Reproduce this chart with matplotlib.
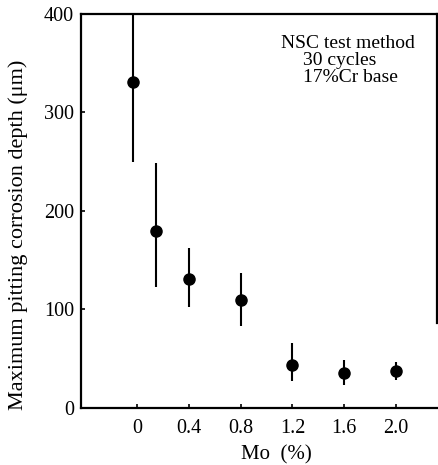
import numpy as np
import matplotlib
matplotlib.use('Agg')
import matplotlib.pyplot as plt

# Data
mo_pct = [-0.03, 0.15, 0.4, 0.8, 1.2, 1.6, 2.0]
depth = [331, 180, 131, 110, 44, 36, 38]
depth_hi = [400, 249, 162, 137, 66, 49, 47]
depth_lo = [250, 123, 103, 83, 27, 23, 28]

xticks = [0, 0.4, 0.8, 1.2, 1.6, 2.0]
xtick_labels = ['0', '0.4', '0.8', '1.2', '1.6', '2.0']
yticks = [0, 100, 200, 300, 400]

plt.rcParams['font.family'] = ['Liberation Serif', 'DejaVu Serif']

fig = plt.figure(figsize=(4.38, 4.65), dpi=100)
ax = fig.add_axes([0.185, 0.1226, 0.813, 0.8473])

depth = np.array(depth)
yerr = [depth - np.array(depth_lo), np.array(depth_hi) - depth]
ax.errorbar(mo_pct, depth, yerr=yerr, fmt='o', color='black',
            markersize=8, elinewidth=1.5, capsize=0)

ax.set_xlim(-0.432, 2.317)
ax.set_ylim(0, 400)
ax.set_xticks(xticks)
ax.set_xticklabels(xtick_labels)
ax.set_yticks(yticks)
ax.tick_params(direction='in', length=3, width=1.2, labelsize=14.5)
ax.tick_params(axis='x', pad=8)
ax.tick_params(axis='y', pad=5)

for s in ax.spines.values():
    s.set_linewidth(1.6)
ax.spines['right'].set_bounds(86, 400)

ax.set_xlabel('Mo  (%)', fontsize=15)
ax.xaxis.set_label_coords(0.548, -0.095)
ax.set_ylabel('Maximum pitting corrosion depth (\u03bcm)', fontsize=16)
ax.yaxis.set_label_coords(-0.15, 0.44)

ax.text(0.562, 0.914, 'NSC test method', transform=ax.transAxes, fontsize=14)
ax.text(0.622, 0.871, '30 cycles', transform=ax.transAxes, fontsize=14)
ax.text(0.622, 0.828, '17%Cr base', transform=ax.transAxes, fontsize=14)

fig.savefig('out.png', dpi=100, facecolor='white')
